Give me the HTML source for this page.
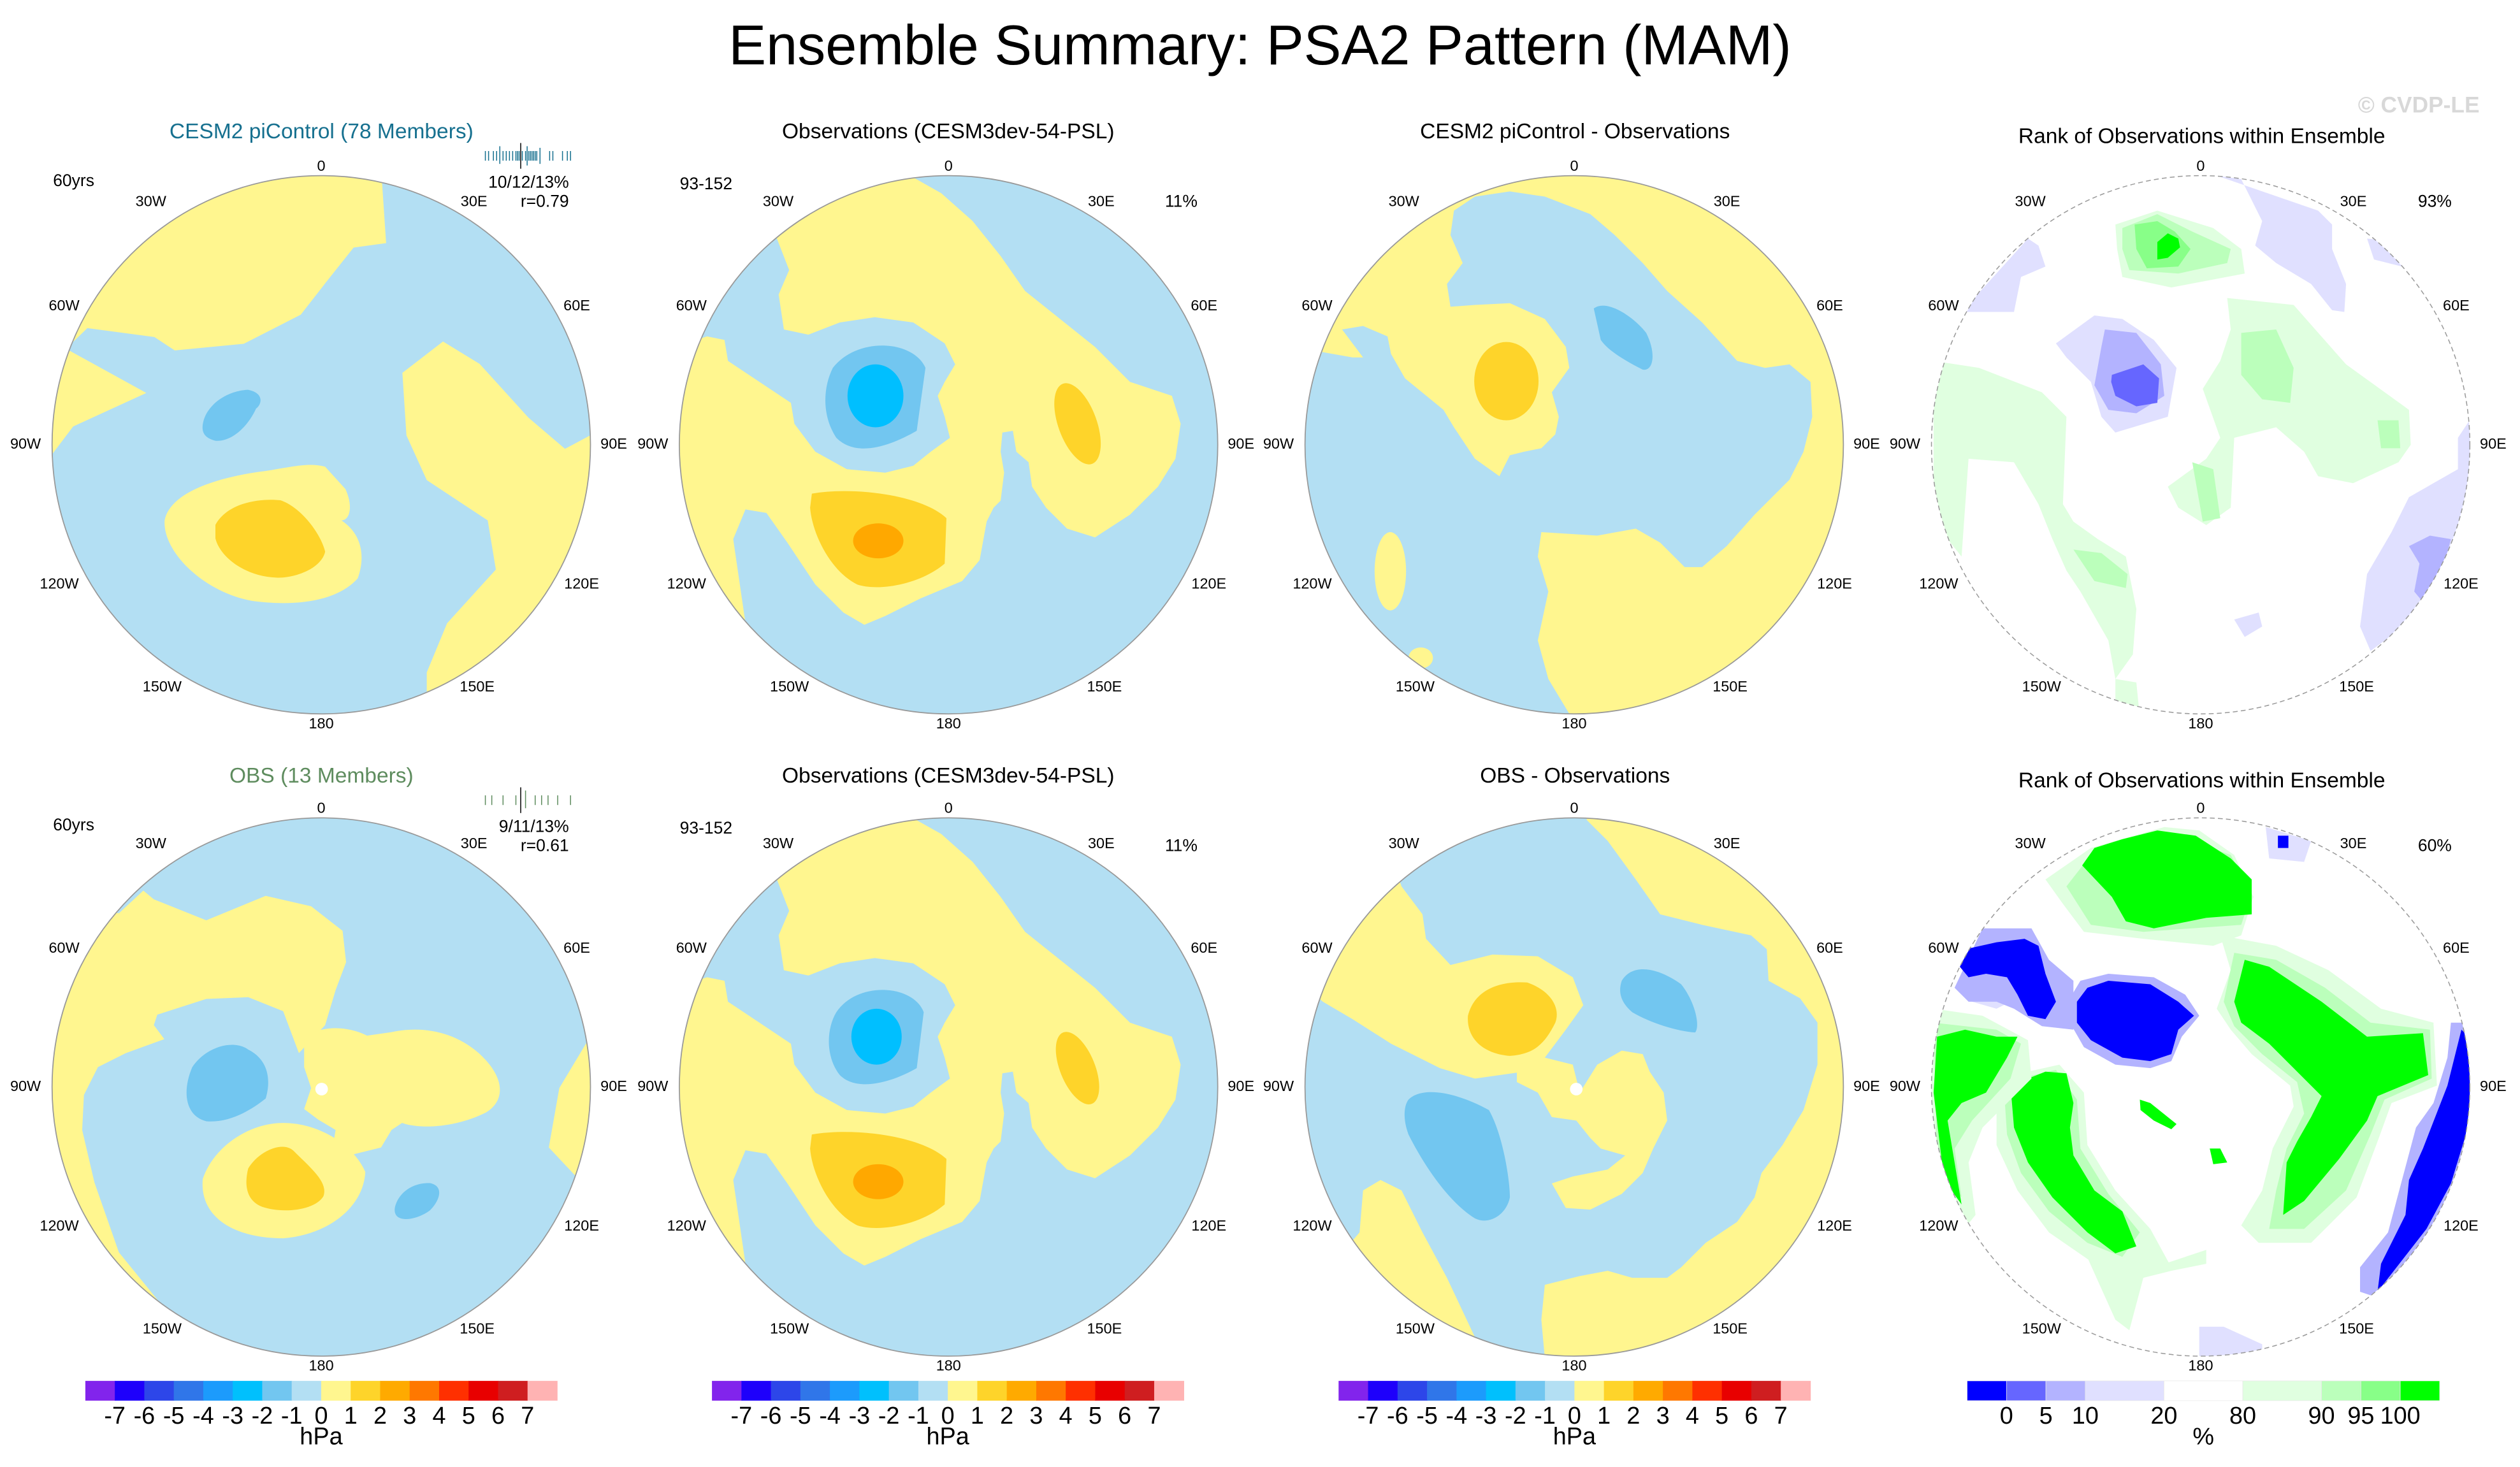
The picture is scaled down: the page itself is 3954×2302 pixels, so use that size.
<!DOCTYPE html>
<html><head><meta charset="utf-8"><title>Ensemble Summary: PSA2 Pattern (MAM)</title>
<style>
html,body{margin:0;padding:0;background:#fff;}
svg{display:block;font-family:"Liberation Sans",sans-serif;}
.lbl{font-size:9.3px;fill:#000;text-anchor:middle;dominant-baseline:middle;}
.cor{font-size:10.5px;fill:#000;dominant-baseline:middle;}
.ttl{font-size:13.3px;text-anchor:middle;}
.cb{font-family:"Liberation Sans Narrow","Liberation Sans",sans-serif;font-size:15px;text-anchor:middle;fill:#000;}
</style></head>
<body>
<svg id="fig" width="3954" height="2302" viewBox="0 0 1568 913" preserveAspectRatio="none" xmlns="http://www.w3.org/2000/svg">
<defs>
<clipPath id="c1"><circle cx="199.9" cy="276.8" r="167.5"/></clipPath>
<clipPath id="c2"><circle cx="590.2" cy="276.8" r="167.5"/></clipPath>
<clipPath id="c3"><circle cx="979.5" cy="276.8" r="167.5"/></clipPath>
<clipPath id="c4"><circle cx="1369.3" cy="276.8" r="167.5"/></clipPath>
<clipPath id="c5"><circle cx="199.9" cy="676.5" r="167.5"/></clipPath>
<clipPath id="c6"><circle cx="590.2" cy="676.5" r="167.5"/></clipPath>
<clipPath id="c7"><circle cx="979.5" cy="676.5" r="167.5"/></clipPath>
<clipPath id="c8"><circle cx="1369.3" cy="676.5" r="167.5"/></clipPath>
</defs>

<text x="784" y="40" font-size="35" text-anchor="middle" fill="#000">Ensemble Summary: PSA2 Pattern (MAM)</text>
<text x="1505" y="70" font-size="14" font-weight="bold" text-anchor="middle" fill="#d8d8d8">© CVDP-LE</text>

<!-- Panel 1 -->
<g>
<text class="ttl" x="200" y="86" fill="#16708f">CESM2 piControl (78 Members)</text>
<g clip-path="url(#c1)">
<circle cx="199.9" cy="276.8" r="168" fill="#b3dff3"/>
<g transform="translate(0,59.48) scale(0.2529,0.2783)">
<polygon fill="#fff68f" points="175,555 -100,500 -100,-100 940,-100 940,195 950,330 870,340 800,420 740,490 600,555 430,570 380,540 215,520"/>
<polygon fill="#fff68f" points="130,800 -100,800 -100,560 170,570 360,665 180,740"/>
<polygon fill="#fff68f" points="990,620 1090,550 1180,600 1300,720 1390,790 1452,760 1700,700 1700,1500 1050,1500 1050,1290 1100,1180 1220,1060 1200,950 1050,860 1000,760"/>
<path fill="#fff68f" d="M405,950 C420,880 560,850 650,840 C720,830 760,820 800,830 L850,880 C870,920 860,950 840,950 C890,980 900,1030 880,1080 C820,1140 700,1140 620,1130 C500,1110 400,1020 405,950 Z"/>
<path fill="#fed42a" d="M530,960 C560,910 640,900 690,905 C740,920 790,980 800,1020 C790,1060 720,1080 680,1078 C600,1075 540,1030 530,990 Z"/>
<path fill="#72c6f0" d="M500,730 C510,690 560,660 610,658 C650,665 645,690 630,700 C610,740 570,775 530,772 C500,765 495,750 500,730 Z"/>
</g></g>
<circle cx="199.9" cy="276.8" r="167.5" fill="none" stroke="#999" stroke-width="0.7"/>
<text class="cor" x="33" y="113">60yrs</text>
<text class="cor" x="354" y="114" text-anchor="end">10/12/13%</text>
<text class="cor" x="354" y="126" text-anchor="end">r=0.79</text>
<g stroke="#16708f" stroke-width="0.6">
<line x1="302" y1="94" x2="302" y2="100"/><line x1="304" y1="94" x2="304" y2="100"/><line x1="307" y1="94" x2="307" y2="100"/><line x1="309" y1="94" x2="309" y2="100"/><line x1="311" y1="91" x2="311" y2="102"/><line x1="313" y1="94" x2="313" y2="100"/><line x1="315" y1="94" x2="315" y2="100"/><line x1="317" y1="94" x2="317" y2="100"/><line x1="319" y1="94" x2="319" y2="100"/><line x1="321" y1="94" x2="321" y2="100"/><line x1="322" y1="94" x2="322" y2="100"/><line x1="323" y1="94" x2="323" y2="100"/><line x1="324" y1="89" x2="324" y2="105" stroke="#000"/><line x1="325" y1="94" x2="325" y2="100"/><line x1="327" y1="94" x2="327" y2="100"/><line x1="328" y1="91" x2="328" y2="103"/><line x1="329" y1="94" x2="329" y2="100"/><line x1="330" y1="94" x2="330" y2="100"/><line x1="331" y1="94" x2="331" y2="100"/><line x1="332" y1="94" x2="332" y2="100"/><line x1="333" y1="94" x2="333" y2="100"/><line x1="334" y1="94" x2="334" y2="100"/><line x1="336" y1="92" x2="336" y2="102"/><line x1="342" y1="94" x2="342" y2="100"/><line x1="344" y1="94" x2="344" y2="100"/><line x1="350" y1="94" x2="350" y2="100"/><line x1="353" y1="94" x2="353" y2="100"/><line x1="355" y1="94" x2="355" y2="100"/>
</g>
</g>

<!-- Panel 2 -->
<g>
<text class="ttl" x="590" y="86">Observations (CESM3dev-54-PSL)</text>
<g clip-path="url(#c2)">
<circle cx="590.2" cy="276.8" r="168" fill="#fff68f"/>
<g transform="translate(590.2,276.8) scale(0.2175) translate(-781,-780)">
<polygon fill="#b3dff3" points="680,15 760,60 850,140 930,240 1000,340 1100,420 1200,500 1300,600 1420,640 1445,720 1430,820 1380,900 1300,980 1200,1045 1120,1020 1060,960 1020,900 1010,830 975,800 965,740 935,745 930,800 940,860 930,940 910,960 890,1000 870,1110 820,1170 700,1220 600,1270 540,1295 480,1260 400,1180 320,1060 260,975 200,965 165,1050 200,1290 120,1350 -100,1800 1800,1800 1800,-100 700,-100"/>
<polygon fill="#b3dff3" points="60,480 -50,400 150,50 290,190 325,280 295,350 310,450 380,465 470,430 570,415 680,430 770,490 800,550 770,600 750,640 770,700 785,760 730,800 680,840 600,860 490,850 400,800 340,720 330,660 240,600 150,540 140,480 90,470"/>
<path fill="#72c6f0" d="M450,560 C520,470 680,480 715,560 L690,740 C620,780 520,820 460,760 C420,700 420,620 450,560 Z"/>
<ellipse fill="#00bfff" cx="572" cy="640" rx="80" ry="90"/>
<path fill="#fed42a" d="M390,920 C500,900 700,920 775,990 L770,1120 C700,1180 580,1200 520,1180 C440,1140 390,1030 385,960 Z"/>
<ellipse fill="#ffa800" cx="580" cy="1055" rx="72" ry="50"/>
<ellipse fill="#fed42a" cx="1150" cy="720" rx="55" ry="122" transform="rotate(-20 1150 720)"/>
</g></g>
<circle cx="590.2" cy="276.8" r="167.5" fill="none" stroke="#999" stroke-width="0.7"/>
<text class="cor" x="423" y="115">93-152</text>
<text class="cor" x="735" y="126" text-anchor="middle">11%</text>
</g>

<!-- Panel 3 -->
<g>
<text class="ttl" x="980" y="86">CESM2 piControl - Observations</text>
<g clip-path="url(#c3)">
<circle cx="979.5" cy="276.8" r="168" fill="#fff68f"/>
<g transform="translate(979.5,276.8) scale(0.2175) translate(-784,-780)">
<polygon fill="#b3dff3" points="65,515 150,530 180,530 120,450 180,440 250,470 260,520 300,590 410,680 440,730 500,820 570,870 600,810 640,800 690,790 730,750 740,700 720,630 770,560 760,500 700,420 600,375 500,380 430,385 420,320 465,260 430,180 440,110 500,70 600,55 700,70 830,120 900,180 980,260 1050,340 1150,430 1250,540 1330,560 1400,550 1460,600 1465,700 1440,800 1400,880 1300,980 1220,1070 1150,1130 1100,1130 1030,1060 960,1020 850,1040 690,1030 680,1100 710,1200 680,1340 710,1450 770,1550 700,1700 -100,1700 -100,500"/>
<ellipse fill="#fff68f" cx="258" cy="1142" rx="45" ry="112"/>
<ellipse fill="#fff68f" cx="345" cy="1390" rx="35" ry="30"/>
<path fill="#72c6f0" d="M840,390 C880,360 960,420 990,460 C1020,520 1010,570 980,565 C930,540 880,510 860,480 Z"/>
<ellipse fill="#fed42a" cx="590" cy="598" rx="92" ry="112"/>
</g></g>
<circle cx="979.5" cy="276.8" r="167.5" fill="none" stroke="#999" stroke-width="0.7"/>
</g>

<!-- Panel 4 rank -->
<g>
<text class="ttl" x="1370" y="89">Rank of Observations within Ensemble</text>
<g clip-path="url(#c4)">
<circle cx="1369.3" cy="276.8" r="168" fill="#fff"/>
<g transform="translate(1369.3,276.8) scale(0.2175) translate(-784,-780)">
<polygon fill="#e0e0ff" points="830,10 1120,110 1160,150 1160,220 1200,320 1195,400 1160,395 1100,320 1000,260 940,210 960,140 900,20"/>
<polygon fill="#e0e0ff" points="1260,190 1360,200 1360,270 1280,250"/>
<polygon fill="#e0e0ff" points="120,400 250,400 270,300 340,270 320,210 290,190 100,400"/>
<polygon fill="#e0e0ff" points="1560,700 1520,760 1520,850 1380,930 1330,1030 1260,1150 1240,1300 1270,1370 1500,1200 1650,700"/>
<polygon fill="#b3b3ff" points="1380,1070 1440,1040 1500,1050 1470,1160 1420,1230 1395,1200 1410,1120"/>
<polygon fill="#e0e0ff" points="880,1280 950,1260 960,1300 910,1330"/>
<polygon fill="#e0e0ff" points="480,410 560,420 650,480 715,560 690,700 540,745 500,700 470,600 400,530 370,490"/>
<polygon fill="#b3b3ff" points="510,450 600,460 670,550 680,640 600,690 520,680 480,610 500,500"/>
<polygon fill="#6666ff" points="530,580 620,550 665,590 660,660 600,670 540,640 528,600"/>
<polygon fill="#e0ffe0" points="540,150 660,110 820,160 900,220 910,290 700,330 560,300 545,220"/>
<polygon fill="#bbffbb" points="560,160 660,120 760,170 870,220 860,260 720,290 580,280 560,220"/>
<polygon fill="#88ff88" points="595,150 660,140 710,170 755,220 720,270 630,275 600,220"/>
<polygon fill="#00ff00" points="660,200 690,175 720,190 725,215 690,245 660,250"/>
<polygon fill="#e0ffe0" points="860,360 1050,380 1200,550 1380,680 1385,780 1350,830 1220,890 1120,870 1080,800 1000,730 880,760 870,960 800,1010 720,960 690,900 800,820 840,760 790,620 840,540 870,450"/>
<polygon fill="#bbffbb" points="900,460 1000,450 1050,560 1040,660 960,650 900,580"/>
<polygon fill="#bbffbb" points="1290,710 1350,710 1355,790 1300,790"/>
<polygon fill="#bbffbb" points="760,830 820,850 840,990 790,1000"/>
<polygon fill="#e0ffe0" points="20,540 150,560 330,630 400,700 390,950 420,1000 490,1050 570,1100 600,1250 590,1380 540,1450 520,1340 440,1200 400,1140 360,1050 320,950 250,830 120,820 100,1100 20,1000"/>
<polygon fill="#bbffbb" points="420,1080 500,1090 575,1150 570,1190 480,1170"/>
<polygon fill="#e0ffe0" points="540,1450 600,1460 610,1560 540,1560"/>
</g></g>
<circle cx="1369.3" cy="276.8" r="167.5" fill="none" stroke="#999" stroke-width="0.6" stroke-dasharray="3,2"/>
<text class="cor" x="1515" y="126" text-anchor="middle">93%</text>
</g>

<!-- Panel 5 -->
<g>
<text class="ttl" x="200" y="487" fill="#5e8c5e">OBS (13 Members)</text>
<g clip-path="url(#c5)">
<circle cx="199.9" cy="676.5" r="168" fill="#b3dff3"/>
<g transform="translate(199.9,676.5) scale(0.2175) translate(-809,-777)">
<polygon fill="#fff68f" points="230,280 300,215 330,240 480,300 650,230 780,260 870,330 880,420 850,500 820,600 745,680 700,560 600,520 480,525 340,570 330,600 360,640 250,680 170,720 130,800 125,900 160,1050 230,1250 360,1410 -200,1500 -200,200"/>
<path fill="#fff68f" d="M760,640 C800,600 880,600 940,630 L1010,620 C1100,600 1200,620 1270,690 C1340,760 1330,820 1280,850 C1200,890 1100,900 1040,880 L1010,900 L980,950 L900,970 L840,960 L850,900 L800,870 L760,840 L780,780 L760,720 Z"/>
<polygon fill="#fff68f" points="1568,650 1490,780 1460,950 1535,1030 1700,1000"/>
<path fill="#fff68f" d="M470,1040 C500,950 600,880 700,880 C800,880 900,940 935,1020 C930,1120 830,1200 700,1210 C560,1210 460,1150 470,1040 Z"/>
<path fill="#fed42a" d="M600,1010 C630,960 700,930 730,960 C780,1010 830,1050 815,1090 C790,1130 700,1140 640,1120 C590,1100 590,1050 600,1010 Z"/>
<path fill="#72c6f0" d="M440,720 C480,660 560,640 600,670 C660,700 665,760 650,810 C600,850 540,880 480,875 C420,860 410,790 440,720 Z"/>
<path fill="#72c6f0" d="M1020,1120 C1030,1080 1070,1050 1120,1052 C1160,1060 1150,1100 1120,1130 C1080,1160 1010,1170 1020,1120 Z"/>
<circle fill="#fff" cx="810" cy="783" r="18"/>
</g></g>
<circle cx="199.9" cy="676.5" r="167.5" fill="none" stroke="#999" stroke-width="0.7"/>
<text class="cor" x="33" y="514">60yrs</text>
<text class="cor" x="354" y="515" text-anchor="end">9/11/13%</text>
<text class="cor" x="354" y="527" text-anchor="end">r=0.61</text>
<g stroke="#5e8c5e" stroke-width="0.6">
<line x1="302" y1="495" x2="302" y2="501"/><line x1="306" y1="495" x2="306" y2="501"/><line x1="313" y1="495" x2="313" y2="501"/><line x1="321" y1="495" x2="321" y2="501"/><line x1="324" y1="490" x2="324" y2="506" stroke="#000"/><line x1="327" y1="492" x2="327" y2="503"/><line x1="333" y1="495" x2="333" y2="501"/><line x1="337" y1="495" x2="337" y2="501"/><line x1="341" y1="495" x2="341" y2="501"/><line x1="347" y1="495" x2="347" y2="501"/><line x1="355" y1="495" x2="355" y2="501"/>
</g>
</g>

<!-- Panel 6 -->
<g>
<text class="ttl" x="590" y="487">Observations (CESM3dev-54-PSL)</text>
<g clip-path="url(#c6)">
<circle cx="590.2" cy="676.5" r="168" fill="#fff68f"/>
<g transform="translate(590.2,676.5) scale(0.2175) translate(-781,-784)">
<polygon fill="#b3dff3" points="680,15 760,60 850,140 930,240 1000,340 1100,420 1200,500 1300,600 1420,640 1445,720 1430,820 1380,900 1300,980 1200,1045 1120,1020 1060,960 1020,900 1010,830 975,800 965,740 935,745 930,800 940,860 930,940 910,960 890,1000 870,1110 820,1170 700,1220 600,1270 540,1295 480,1260 400,1180 320,1060 260,975 200,965 165,1050 200,1290 120,1350 -100,1800 1800,1800 1800,-100 700,-100"/>
<polygon fill="#b3dff3" points="60,480 -50,400 150,50 290,190 325,280 295,350 310,450 380,465 470,430 570,415 680,430 770,490 800,550 770,600 750,640 770,700 785,760 730,800 680,840 600,860 490,850 400,800 340,720 330,660 240,600 150,540 140,480 90,470"/>
<path fill="#72c6f0" d="M460,570 C520,480 680,490 710,570 L690,730 C620,770 520,800 470,750 C430,700 430,620 460,570 Z"/>
<ellipse fill="#00bfff" cx="575" cy="640" rx="72" ry="80"/>
<path fill="#fed42a" d="M390,920 C500,900 700,920 775,990 L770,1120 C700,1180 580,1200 520,1180 C440,1140 390,1030 385,960 Z"/>
<ellipse fill="#ffa800" cx="580" cy="1055" rx="72" ry="50"/>
<ellipse fill="#fed42a" cx="1150" cy="730" rx="50" ry="110" transform="rotate(-22 1150 730)"/>
</g></g>
<circle cx="590.2" cy="676.5" r="167.5" fill="none" stroke="#999" stroke-width="0.7"/>
<text class="cor" x="423" y="516">93-152</text>
<text class="cor" x="735" y="527" text-anchor="middle">11%</text>
</g>

<!-- Panel 7 -->
<g>
<text class="ttl" x="980" y="487">OBS - Observations</text>
<g clip-path="url(#c7)">
<circle cx="979.5" cy="676.5" r="168" fill="#b3dff3"/>
<g transform="translate(979.5,676.5) scale(0.2175) translate(-784,-784)">
<polygon fill="#fff68f" points="820,20 880,80 960,190 1030,290 1150,320 1290,350 1335,390 1340,480 1430,530 1480,600 1480,720 1440,850 1380,950 1320,1030 1300,1100 1250,1170 1160,1230 1090,1300 1050,1330 950,1330 880,1310 800,1325 700,1350 690,1450 700,1560 700,1700 1700,1700 1700,-100 820,-100"/>
<polygon fill="#fff68f" points="290,210 350,290 360,360 430,435 550,405 680,410 780,470 810,550 760,620 700,700 640,740 500,760 400,730 260,660 150,590 65,540 -100,400 200,-50"/>
<polygon fill="#fff68f" points="620,720 700,700 780,720 800,800 850,720 920,680 980,690 1000,740 1040,800 1050,880 1010,960 980,1030 920,1090 830,1135 760,1130 720,1060 780,1040 880,1020 930,980 860,960 830,930 790,880 720,870 680,800 620,770"/>
<polygon fill="#fff68f" points="180,1080 230,1050 290,1080 350,1200 420,1330 500,1500 300,1700 0,1400 170,1200"/>
<path fill="#72c6f0" d="M310,820 C350,780 450,800 540,850 C580,920 600,1050 600,1100 C590,1150 540,1180 500,1160 C420,1110 350,1000 310,920 C295,880 295,840 310,820 Z"/>
<path fill="#72c6f0" d="M920,480 C950,430 1020,440 1090,490 C1130,540 1145,610 1130,628 C1080,625 1000,600 950,570 C915,540 910,510 920,480 Z"/>
<path fill="#fed42a" d="M480,580 C500,500 580,480 650,485 C720,510 745,560 730,600 C700,660 670,690 600,695 C530,690 475,650 480,580 Z"/>
<circle fill="#fff" cx="790" cy="790" r="18"/>
</g></g>
<circle cx="979.5" cy="676.5" r="167.5" fill="none" stroke="#999" stroke-width="0.7"/>
</g>

<!-- Panel 8 rank -->
<g>
<text class="ttl" x="1370" y="490">Rank of Observations within Ensemble</text>
<g clip-path="url(#c8)">
<circle cx="1369.3" cy="676.5" r="168" fill="#fff"/>
<g transform="translate(1369.3,676.5) scale(0.2175) translate(-784,-784)">
<polygon fill="#e0ffe0" points="340,190 470,100 680,40 780,50 880,120 935,240 900,350 820,380 620,360 450,340 390,260"/>
<polygon fill="#bbffbb" points="400,210 470,120 700,60 870,120 930,230 900,320 620,340 470,320"/>
<polygon fill="#00ff00" points="445,150 480,100 560,75 660,50 770,65 870,130 930,190 930,290 800,300 650,330 570,310 530,240"/>
<polygon fill="#e0ffe0" points="840,350 1000,380 1150,450 1300,560 1450,600 1460,780 1330,830 1290,940 1230,1100 1100,1230 950,1230 900,1180 960,1080 990,960 1050,840 1040,780 930,690 870,620 830,560 870,450"/>
<polygon fill="#bbffbb" points="880,400 1000,420 1140,500 1270,600 1440,620 1445,760 1310,820 1270,920 1200,1080 1080,1190 980,1190 1000,1080 1030,960 1080,860 1060,770 960,690 880,610 850,540"/>
<polygon fill="#00ff00" points="910,420 980,440 1130,540 1260,640 1420,630 1435,750 1290,810 1260,880 1180,990 1080,1110 1020,1150 1030,1000 1060,940 1100,870 1130,810 1040,720 980,660 900,600 880,540"/>
<polygon fill="#e0ffe0" points="200,760 380,720 450,800 460,950 540,1080 640,1190 700,1300 620,1330 480,1290 350,1200 260,1080 200,950"/>
<polygon fill="#bbffbb" points="220,770 370,735 430,820 440,960 520,1090 610,1200 560,1270 460,1230 350,1140 270,1030 230,920"/>
<polygon fill="#00ff00" points="240,780 340,740 400,745 420,830 410,900 420,980 480,1080 560,1140 600,1240 540,1260 460,1200 360,1100 290,1000 250,900"/>
<polygon fill="#e0ffe0" points="20,560 160,580 290,650 300,760 160,900 120,1000 140,1150 100,1200 0,1000"/>
<polygon fill="#bbffbb" points="20,600 200,620 270,660 240,760 130,880 80,960 100,1100 30,1000"/>
<polygon fill="#00ff00" points="30,640 110,620 200,640 260,640 230,700 170,800 100,830 60,880 80,1000 100,1120 50,1050 20,800"/>
<polygon fill="#e0ffe0" points="450,1250 650,1300 800,1250 800,1290 700,1310 620,1330 580,1480 540,1450"/>
<polygon fill="#00ff00" points="610,820 640,830 715,890 700,905 650,880 612,850"/>
<polygon fill="#00ff00" points="810,960 840,960 860,1000 820,1005"/>
<polygon fill="#e0e0ff" points="130,470 230,460 260,530 200,560 130,540"/>
<polygon fill="#b3b3ff" points="160,330 300,330 350,420 420,480 420,620 330,610 250,560 200,540 120,540 80,500"/>
<polygon fill="#0000ff" points="110,390 200,370 280,360 320,380 340,460 370,540 340,590 290,580 260,520 230,470 170,460 120,470 95,440"/>
<polygon fill="#b3b3ff" points="440,480 520,460 650,470 740,520 780,580 730,640 700,710 640,730 540,720 450,670 410,600 410,530"/>
<polygon fill="#0000ff" points="460,500 520,480 640,490 720,540 765,580 720,620 700,690 640,710 560,700 470,650 430,600 430,540"/>
<polygon fill="#b3b3ff" points="1500,600 1570,600 1570,900 1460,1200 1300,1390 1240,1370 1240,1300 1320,1200 1360,1050 1400,900 1450,830 1490,700"/>
<polygon fill="#0000ff" points="1530,620 1560,650 1555,880 1500,1060 1430,1190 1290,1370 1300,1290 1370,1150 1380,1050 1420,960 1490,780"/>
<polygon fill="#e0e0ff" points="970,40 1100,80 1080,140 980,130"/>
<polygon fill="#0000ff" points="1005,65 1035,65 1035,100 1005,100"/>
<polygon fill="#e0e0ff" points="780,1470 850,1470 960,1520 960,1600 780,1600"/>
</g></g>
<circle cx="1369.3" cy="676.5" r="167.5" fill="none" stroke="#999" stroke-width="0.6" stroke-dasharray="3,2"/>
<text class="cor" x="1515" y="527" text-anchor="middle">60%</text>
</g>

<g id="geo-labels"></g>
<g id="colorbars"></g>

<script>
// Colour scale data
const hpaColors = ["#8224ec","#1e00fb","#2d46e9","#3076e9","#1c9bfc","#00c0fd","#72c6f0","#b3dff3","#fff68f","#fed42a","#ffaa00","#ff7800","#ff3000","#e80000","#cf1e20","#ffb3b3"];
const hpaTicks = ["-7","-6","-5","-4","-3","-2","-1","0","1","2","3","4","5","6","7"];
const rankColors = ["#0000ff","#6666ff","#b3b3ff","#e0e0ff","#ffffff","#e0ffe0","#bbffbb","#88ff88","#00ff00"];
const rankUnits = [1,1,1,2,2,2,1,1,1];
const rankTicks = ["0","5","10","20","80","90","95","100"];
const lonLabels = ["0","30W","30E","60W","60E","90W","90E","120W","120E","150W","150E","180"];
const lonOffsets = [[0,-173],[-106,-151],[95,-151],[-160,-86],[159,-86],[-184,0],[182,0],[-163,87],[162,87],[-99,151],[97,151],[0,174]];

const NS = "http://www.w3.org/2000/svg";
const centersX = [199.9,590.2,979.5,1369.3];
const centersY = [276.8,676.5];
const geo = document.getElementById("geo-labels");
centersY.forEach(cy => centersX.forEach(cx => {
  lonLabels.forEach((t,i) => {
    const el = document.createElementNS(NS,"text");
    el.setAttribute("class","lbl");
    el.setAttribute("x", cx + lonOffsets[i][0]);
    el.setAttribute("y", cy + lonOffsets[i][1]);
    el.textContent = t;
    
    
    geo.appendChild(el);
  });
}));

const cbg = document.getElementById("colorbars");
const barY = 859.4, barH = 12.3;
[53.1, 443.0, 832.9].forEach(x0 => {
  const w = (346.6 - 53.1) / hpaColors.length;
  hpaColors.forEach((c,i) => {
    const r = document.createElementNS(NS,"rect");
    r.setAttribute("x", x0 + i*w); r.setAttribute("y", barY);
    r.setAttribute("width", w + 0.3); r.setAttribute("height", barH);
    r.setAttribute("fill", c);
    
    
    cbg.appendChild(r);
  });
  hpaTicks.forEach((t,i) => {
    const el = document.createElementNS(NS,"text");
    el.setAttribute("class","cb");
    el.setAttribute("x", x0 + (i+1)*w); el.setAttribute("y", 886);
    el.textContent = t;
    
    
    cbg.appendChild(el);
  });
  const u = document.createElementNS(NS,"text");
  u.setAttribute("class","cb");
  u.setAttribute("x", x0 + (346.6-53.1)/2); u.setAttribute("y", 899);
  u.textContent = "hPa";
  
  
  cbg.appendChild(u);
});
{
  const x0 = 1224, total = 1518 - 1224;
  const unitW = total / rankUnits.reduce((a,b)=>a+b,0);
  let x = x0; const bounds = [];
  rankColors.forEach((c,i) => {
    const r = document.createElementNS(NS,"rect");
    r.setAttribute("x", x); r.setAttribute("y", barY);
    r.setAttribute("width", rankUnits[i]*unitW); r.setAttribute("height", barH);
    r.setAttribute("fill", c); r.setAttribute("stroke","#e8e8e8"); r.setAttribute("stroke-width","0.3");
    
    
    cbg.appendChild(r);
    x += rankUnits[i]*unitW; bounds.push(x);
  });
  rankTicks.forEach((t,i) => {
    const el = document.createElementNS(NS,"text");
    el.setAttribute("class","cb");
    el.setAttribute("x", bounds[i]); el.setAttribute("y", 886);
    el.textContent = t;
    
    
    cbg.appendChild(el);
  });
  const u = document.createElementNS(NS,"text");
  u.setAttribute("class","cb");
  u.setAttribute("x", x0 + total/2); u.setAttribute("y", 899);
  u.textContent = "%";
  
  
  cbg.appendChild(u);
}
</script>
</svg>
</body></html>
